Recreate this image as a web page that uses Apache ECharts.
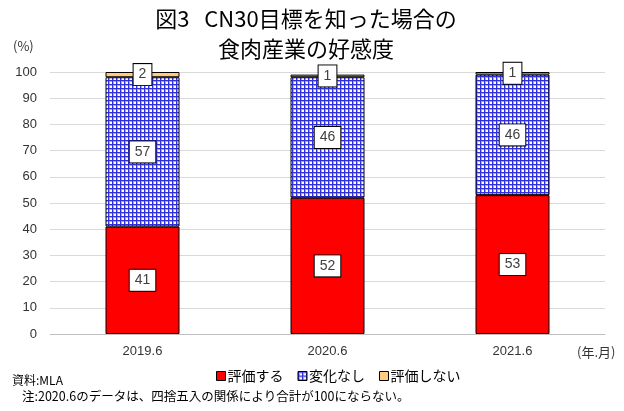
<!DOCTYPE html>
<html><head><meta charset="utf-8">
<script src="https://cdn.jsdelivr.net/npm/echarts@6/dist/echarts.min.js"></script>
<style>html,body{margin:0;padding:0;background:#fff}#c{width:624px;height:411px}</style>
</head><body><div id="c"></div>
<script>
var categories = ['2019.6', '2020.6', '2021.6'];
var seriesNames = ['評価する', '変化なし', '評価しない'];
var valHyoka = [41, 52, 53];
var valHenka = [57, 46, 46];
var valShinai = [2, 1, 1];
var yTicks = [0, 10, 20, 30, 40, 50, 60, 70, 80, 90, 100];

var cv = document.createElement('canvas');
cv.width = 4; cv.height = 4;
var cx = cv.getContext('2d');
cx.fillStyle = '#ffffff'; cx.fillRect(0, 0, 4, 4);
cx.fillStyle = '#a4a4f2'; cx.fillRect(0, 1, 4, 1); cx.fillRect(1, 0, 1, 4);
cx.fillStyle = '#3030dc'; cx.fillRect(0, 0, 4, 1); cx.fillRect(0, 0, 1, 4);
var pattern = {image: cv, repeat: 'repeat'};

var FONT = '"Noto Sans CJK JP", sans-serif';
var labelStyle = {
  show: true, position: 'inside', color: '#404040', fontSize: 14, fontFamily: 'Arial, "Liberation Sans", sans-serif',
  backgroundColor: '#fff', borderColor: '#000', borderWidth: 1, padding: [4, 5, 3, 5]
};
function mk(name, data, color) {
  return {
    name: name, type: 'bar', stack: 's', data: data, barWidth: 74,
    itemStyle: {color: color, borderColor: '#000', borderWidth: 1},
    label: labelStyle, emphasis: {disabled: true}
  };
}
var chart = echarts.init(document.getElementById('c'));
chart.setOption({
  animation: false,
  grid: {left: 50, right: 19, top: 72, bottom: 77},
  xAxis: {
    type: 'category', data: categories,
    axisLine: {lineStyle: {color: '#bfbfbf'}}, axisTick: {show: false},
    axisLabel: {color: '#333', fontSize: 13, fontFamily: 'Arial, sans-serif', margin: 11}
  },
  yAxis: {
    type: 'value', min: 0, max: 100, interval: 10,
    axisLine: {show: false}, axisTick: {show: false},
    splitLine: {lineStyle: {color: '#d9d9d9'}},
    axisLabel: {color: '#333', fontSize: 13, fontFamily: 'Arial, sans-serif', margin: 13,
      formatter: function (v) { return yTicks.indexOf(v) >= 0 ? String(v) : ''; }}
  },
  legend: {
    data: seriesNames, left: 211, top: 364, itemWidth: 9, itemHeight: 9, itemGap: 14,
    icon: 'rect',
    itemStyle: {borderColor: '#000', borderWidth: 1},
    textStyle: {color: '#000', fontSize: 14, fontFamily: FONT, padding: [0, 0, 0, -3]}
  },
  graphic: [
    {type: 'text', x: 306, y: 8, style: {text: '図3   CN30目標を知った場合の', font: '22px ' + FONT, fill: '#000', textAlign: 'center'}},
    {type: 'text', x: 306, y: 38, style: {text: '食肉産業の好感度', font: '22px ' + FONT, fill: '#000', textAlign: 'center'}},
    {type: 'text', x: 13, y: 40, style: {text: '(%)', font: '13px ' + FONT, fill: '#333'}},
    {type: 'text', x: 577, y: 346, style: {text: '(年.月)', font: '13px ' + FONT, fill: '#333'}},
    {type: 'text', x: 12, y: 374, style: {text: '資料:MLA', font: '12px ' + FONT, fill: '#000'}},
    {type: 'text', x: 22, y: 390, style: {text: '注:2020.6のデータは、四捨五入の関係により合計が100にならない。', font: '12.5px ' + FONT, fill: '#000'}}
  ],
  series: [
    mk(seriesNames[0], valHyoka, '#ff0000'),
    mk(seriesNames[1], valHenka, pattern),
    mk(seriesNames[2], valShinai, '#ffcc80')
  ]
});
</script></body></html>
